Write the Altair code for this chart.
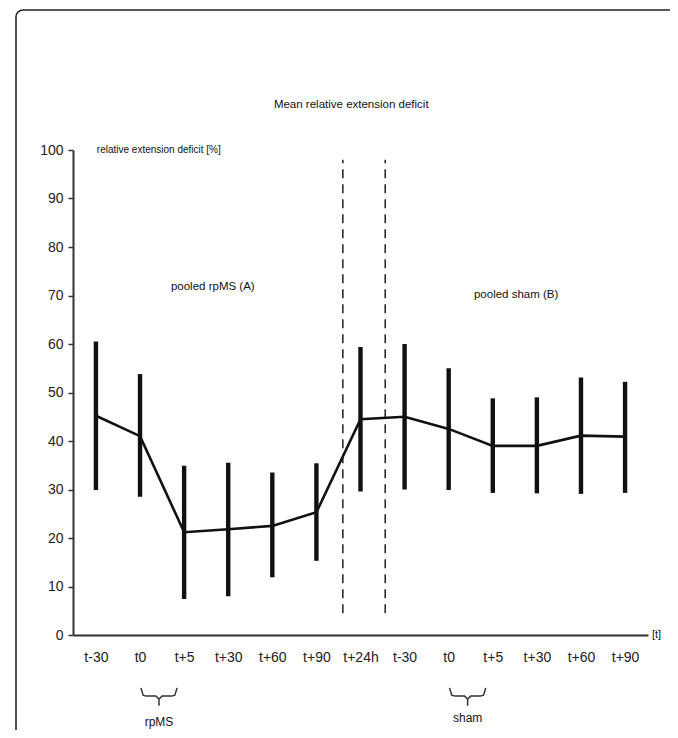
import json
import altair as alt
import pandas as pd

# ---------------- data ----------------
labels = ["t-30", "t0", "t+5", "t+30", "t+60", "t+90", "t+24h",
          "t-30", "t0", "t+5", "t+30", "t+60", "t+90"]
mean_vals = [45.2, 41.0, 21.2, 21.8, 22.5, 25.3, 44.5, 45.0, 42.5, 39.0, 39.0, 41.1, 40.9]
upper_vals = [60.5, 53.8, 34.9, 35.5, 33.5, 35.4, 59.4, 60.0, 55.0, 48.8, 49.0, 53.1, 52.2]
lower_vals = [29.9, 28.5, 7.4, 8.0, 11.9, 15.3, 29.6, 30.0, 29.9, 29.3, 29.2, 29.1, 29.3]

divider_x = [5.60, 6.56]
divider_from = [4.5, 4.5]
divider_to = [98, 98]

bracket_start = [1, 8]
bracket_end = [2, 9]
bracket_text = ["rpMS", "sham"]

center_text = ["Mean relative extension deficit", "pooled rpMS (A)", "pooled sham (B)"]
center_x = [5.79, 2.65, 9.53]
center_y = [109.3, 71.8, 70.1]
center_size = [11.5, 11.5, 11.5]

left_text = ["relative extension deficit [%]", "[t]"]
left_x = [0.02, 12.61]
left_y = [100, 0]
left_size = [10, 11]

FONT = "Liberation Sans Narrow, Liberation Sans, Arial, sans-serif"
INK = "#111111"

# ---------------- tables ----------------
n = len(labels)
df = pd.DataFrame({"idx": list(range(n)), "label": labels, "mean": mean_vals,
                   "lower": lower_vals, "upper": upper_vals})
div_df = pd.DataFrame({"pos": divider_x, "y0": divider_from, "y1": divider_to})
ctext_df = pd.DataFrame({"t": center_text, "x": center_x, "y": center_y, "s": center_size})
ltext_df = pd.DataFrame({"t": left_text, "x": left_x, "y": left_y, "s": left_size})

# brace outline built from the bracket start/end categories
rows = []
for g, (s, e) in enumerate(zip(bracket_start, bracket_end)):
    x1, x2 = s + 0.02, e - 0.16
    c = (x1 + x2) / 2
    pts = [(x1, -10.9), (x1 + 0.05, -12.4), (x1 + 0.12, -12.6), (c - 0.07, -12.6),
           (c, -13.2), (c, -14.6), (c, -13.2), (c + 0.07, -12.6),
           (x2 - 0.12, -12.6), (x2 - 0.05, -12.4), (x2, -10.9)]
    for k, (px, py) in enumerate(pts):
        rows.append({"g": g, "o": k, "x": px, "y": py})
brace_df = pd.DataFrame(rows)
btext_df = pd.DataFrame({"t": bracket_text,
                         "x": [(s + 0.02 + e - 0.16) / 2 for s, e in zip(bracket_start, bracket_end)],
                         "y": [-17.9, -17.2]})

# ---------------- scales / axes ----------------
xscale = alt.Scale(domain=[-0.52, n - 0.48], nice=False, zero=False)
yscale = alt.Scale(domain=[0, 100], nice=False)
label_expr = json.dumps(labels) + "[round(datum.value)]"
xaxis = alt.Axis(values=list(range(n)), labelExpr=label_expr, ticks=False, grid=False,
                 labelPadding=15, labelOverlap=False, labelFlush=False, title=None)
yaxis = alt.Axis(values=list(range(0, 101, 10)), grid=False, tickSize=5, labelPadding=5,
                 title=None)


def X(f):
    return alt.X(f, type="quantitative", scale=xscale, axis=xaxis, title=None)


def Y(f):
    return alt.Y(f, type="quantitative", scale=yscale, axis=yaxis, title=None)


frame = alt.Chart(pd.DataFrame({"a": [0]})).mark_rect(
    fillOpacity=0, stroke="#222222", strokeWidth=1.6, cornerRadius=7
).encode(x=alt.value(-57), x2=alt.value(720), y=alt.value(-140), y2=alt.value(720))

errbars = alt.Chart(df).mark_rule(color=INK, strokeWidth=4.4).encode(
    x=X("idx"), y=Y("lower"), y2="upper")

line = alt.Chart(df).mark_line(color=INK, strokeWidth=2.6).encode(x=X("idx"), y=Y("mean"))

dividers = alt.Chart(div_df).mark_rule(color=INK, strokeWidth=1.4, strokeDash=[9, 6]).encode(
    x=X("pos"), y=Y("y0"), y2="y1")

braces = alt.Chart(brace_df).mark_line(color="#333333", strokeWidth=1.5).encode(
    x=X("x"), y=Y("y"), detail="g:N", order="o:Q")

ctexts = alt.Chart(ctext_df).mark_text(font=FONT, color=INK, align="center", baseline="middle").encode(
    x=X("x"), y=Y("y"), text="t:N", size=alt.Size("s:Q", scale=None))

ltexts = alt.Chart(ltext_df).mark_text(font=FONT, color=INK, align="left", baseline="middle").encode(
    x=X("x"), y=Y("y"), text="t:N", size=alt.Size("s:Q", scale=None))

btexts = alt.Chart(btext_df).mark_text(font=FONT, color=INK, fontSize=12, align="center",
                                       baseline="middle").encode(
    x=X("x"), y=Y("y"), text="t:N")

chart = alt.layer(errbars, line, dividers, braces, ctexts, ltexts, btexts, frame).properties(
    width=575, height=485,
    autosize=alt.AutoSizeParams(type="none"),
    padding={"left": 65, "top": 142, "right": 22, "bottom": 95},
    background="white",
).configure_view(stroke=None).configure_axis(
    domainColor="#333333", domainWidth=2, tickColor="#333333", tickWidth=1.5,
    labelFont=FONT, labelFontSize=14, labelColor="#222222"
)

chart.save("out.html", embed_options={"renderer": "svg", "actions": False})
